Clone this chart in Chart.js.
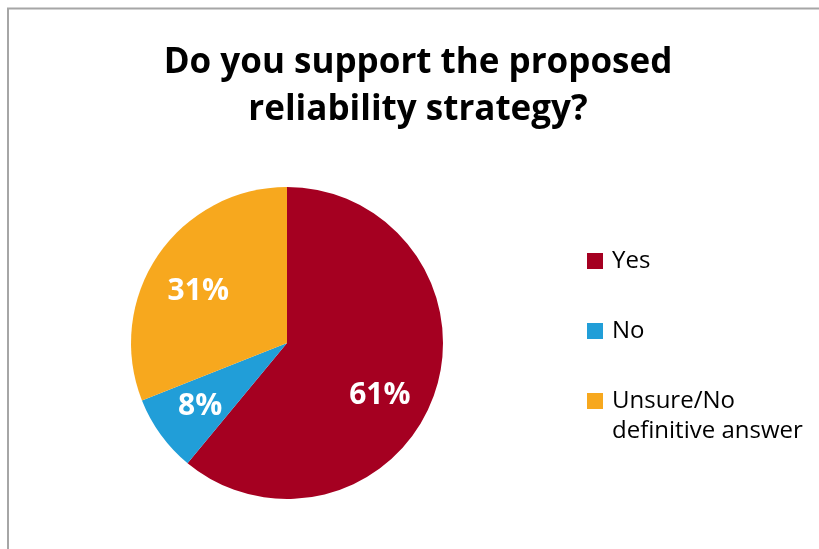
<!DOCTYPE html>
<html>
<head>
<meta charset="utf-8">
<script src="https://cdn.jsdelivr.net/npm/chart.js@4/dist/chart.umd.min.js"></script>
<style>
  html, body { margin: 0; padding: 0; background: #ffffff; }
  #wrap { width: 819px; height: 549px; position: relative; }
</style>
</head>
<body>
<div id="wrap"><canvas id="c" width="819" height="549"></canvas></div>
<script>
// Survey answers (percent of respondents)
const categories = ['Yes', 'No', 'Unsure/No definitive answer'];
const shares = [61, 8, 31];
const sliceColors = ['#A50021', '#219ED8', '#F7A81E'];
const titleLines = ['Do you support the proposed', 'reliability strategy?'];

const FONT = "'Open Sans', 'Noto Sans', sans-serif";

// Frame around the chart area
const framePlugin = {
  id: 'frame',
  beforeDraw(chart) {
    const ctx = chart.ctx;
    ctx.save();
    ctx.fillStyle = '#ffffff';
    ctx.fillRect(0, 0, chart.width, chart.height);
    ctx.strokeStyle = '#a6a6a6';
    ctx.lineWidth = 2;
    ctx.strokeRect(8, 8.5, chart.width + 20, chart.height + 20);
    ctx.restore();
  }
};

// Two-line heading centred over the whole figure
const headingPlugin = {
  id: 'heading',
  afterDraw(chart) {
    const ctx = chart.ctx;
    ctx.save();
    ctx.fillStyle = '#000000';
    ctx.font = "bold 35px " + FONT;
    ctx.textAlign = 'center';
    ctx.textBaseline = 'alphabetic';
    titleLines.forEach((line, i) => {
      ctx.fillText(line, 418, 73 + i * 47);
    });
    ctx.restore();
  }
};

// Percentage labels inside each slice (best-fit style placement)
const sliceLabelPlugin = {
  id: 'sliceLabels',
  afterDatasetsDraw(chart, args, opts) {
    const ctx = chart.ctx;
    const meta = chart.getDatasetMeta(0);
    const values = chart.data.datasets[0].data;
    const nudge = opts.nudge || [];
    ctx.save();
    ctx.fillStyle = '#ffffff';
    ctx.font = "bold 30px " + FONT;
    ctx.textAlign = 'center';
    ctx.textBaseline = 'middle';
    meta.data.forEach((arc, i) => {
      const p = arc.getProps(['x', 'y', 'startAngle', 'endAngle', 'outerRadius'], true);
      const mid = (p.startAngle + p.endAngle) / 2;
      const r = p.outerRadius * 0.68;
      const [dx, dy] = nudge[i] || [0, 0];
      ctx.fillText(values[i] + '%', p.x + Math.cos(mid) * r + dx, p.y + Math.sin(mid) * r + dy);
    });
    ctx.restore();
  }
};

// Legend on the right with wrapped entries
const sideLegendPlugin = {
  id: 'sideLegend',
  afterDraw(chart) {
    const ctx = chart.ctx;
    const labels = chart.data.labels;
    const colors = chart.data.datasets[0].backgroundColor;
    const boxX = 587, textX = 612, firstY = 261, step = 70, lineH = 30, maxW = 205;
    ctx.save();
    ctx.font = "24px " + FONT;
    ctx.textBaseline = 'middle';
    ctx.textAlign = 'left';
    labels.forEach((label, i) => {
      const y = firstY + i * step;
      ctx.fillStyle = colors[i];
      ctx.fillRect(boxX, y - 8, 16, 16);
      // simple word wrap
      const words = label.split(' ');
      const lines = [];
      let cur = '';
      words.forEach(w => {
        const test = cur ? cur + ' ' + w : w;
        if (cur && ctx.measureText(test).width > maxW) {
          lines.push(cur);
          cur = w;
        } else {
          cur = test;
        }
      });
      if (cur) lines.push(cur);
      ctx.fillStyle = '#000000';
      lines.forEach((ln, j) => ctx.fillText(ln, textX, y + j * lineH));
    });
    ctx.restore();
  }
};

new Chart(document.getElementById('c'), {
  type: 'pie',
  data: {
    labels: categories,
    datasets: [{
      data: shares,
      backgroundColor: sliceColors,
      borderWidth: 0
    }]
  },
  options: {
    responsive: false,
    animation: false,
    layout: { padding: { left: 131, right: 376, top: 187, bottom: 50 } },
    plugins: {
      legend: { display: false },
      title: { display: false },
      tooltip: { enabled: false },
      sliceLabels: { nudge: [[-7, 17], [-1, 1], [-1, 8]] }
    }
  },
  plugins: [framePlugin, sliceLabelPlugin, headingPlugin, sideLegendPlugin]
});
</script>
</body>
</html>
